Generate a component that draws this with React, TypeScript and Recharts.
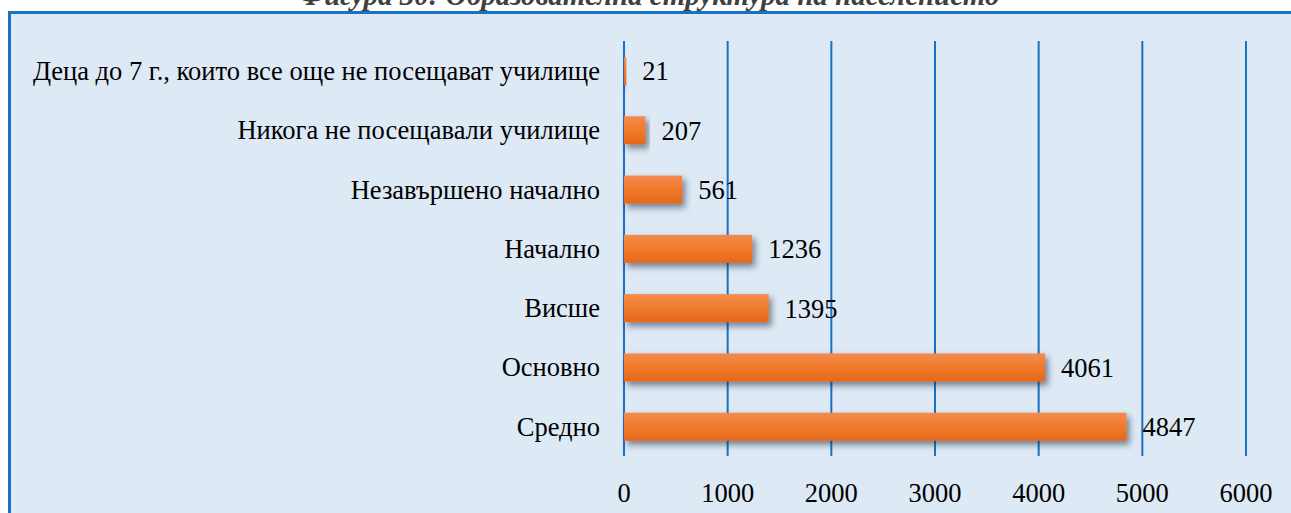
import React from 'react';
import { BarChart, Bar, XAxis, YAxis, CartesianGrid, LabelList } from 'recharts';

const categories = [
  'Деца до 7 г., които все още не посещават училище',
  'Никога не посещавали училище',
  'Незавършено начално',
  'Начално',
  'Висше',
  'Основно',
  'Средно',
];
const values = [21, 207, 561, 1236, 1395, 4061, 4847];
const xTicks = [0, 1000, 2000, 3000, 4000, 5000, 6000];
const title = 'Фигура 30: Образователна структура на населението';

const data = categories.map((name, i) => ({ name, value: values[i] }));

const FONT = '"Liberation Serif", "Times New Roman", serif';
const BLUE = '#1a70c2';
const FS = 26.5;

const ShadowBar = (props: any) => {
  const { x, y, width, height } = props;
  if (!width || width <= 0) return null;
  return (
    <rect
      x={x}
      y={y}
      width={width}
      height={height}
      fill="url(#barGrad)"
      filter="url(#barShadow)"
    />
  );
};

export default function App() {
  return (
    <div
      style={{
        position: 'absolute',
        left: 0,
        top: 0,
        width: 1291,
        height: 513,
        overflow: 'hidden',
        background: '#fff',
      }}
    >
      {/* frame */}
      <div
        style={{
          position: 'absolute',
          left: 8,
          top: 11,
          right: -10,
          bottom: -10,
          borderLeft: `3px solid ${BLUE}`,
          borderTop: `3px solid ${BLUE}`,
          background: '#dde9f5',
        }}
      />
      {/* title, clipped at the top like the source */}
      <div
        style={{
          position: 'absolute',
          left: 0,
          width: 1291,
          top: -19.5,
          lineHeight: '29px',
          textAlign: 'center',
          fontFamily: FONT,
          fontWeight: 'bold',
          fontStyle: 'italic',
          fontSize: 29,
          color: '#404040',
          paddingLeft: 4,
        }}
      >
        {title}
      </div>
      <div style={{ position: 'absolute', left: 0, top: 0 }}>
        <BarChart
          width={1291}
          height={513}
          layout="vertical"
          data={data}
          barSize={28}
          margin={{ top: 41, right: 45, left: 0, bottom: 0 }}
        >
          <defs>
            <linearGradient id="barGrad" x1="0" y1="0" x2="0" y2="1">
              <stop offset="0%" stopColor="#f38b4e" />
              <stop offset="50%" stopColor="#f07a2a" />
              <stop offset="100%" stopColor="#e5681c" />
            </linearGradient>
            <filter id="barShadow" x="-10%" y="-30%" width="130%" height="180%">
              <feDropShadow dx="3" dy="4" stdDeviation="3" floodColor="#1a2a3a" floodOpacity="0.55" />
            </filter>
          </defs>
          <CartesianGrid
            horizontal={false}
            vertical
            stroke={BLUE}
            strokeWidth={2}
            strokeOpacity={1}
          />
          <XAxis
            type="number"
            domain={[0, 6000]}
            ticks={xTicks}
            interval={0}
            axisLine={false}
            tickLine={false}
            height={57}
            tickMargin={21}
            tick={{ fill: '#000', fontSize: FS, fontFamily: FONT }}
          />
          <YAxis
            type="category"
            dataKey="name"
            width={624}
            axisLine={false}
            tickLine={false}
            tickMargin={18}
            interval={0}
            tick={{ fill: '#000', fontSize: FS, fontFamily: FONT }}
          />
          <Bar dataKey="value" shape={ShadowBar} isAnimationActive={false}>
            <LabelList
              dataKey="value"
              position="right"
              offset={16}
              fill="#000"
              fontSize={FS}
              fontFamily={FONT}
            />
          </Bar>
        </BarChart>
      </div>
    </div>
  );
}
